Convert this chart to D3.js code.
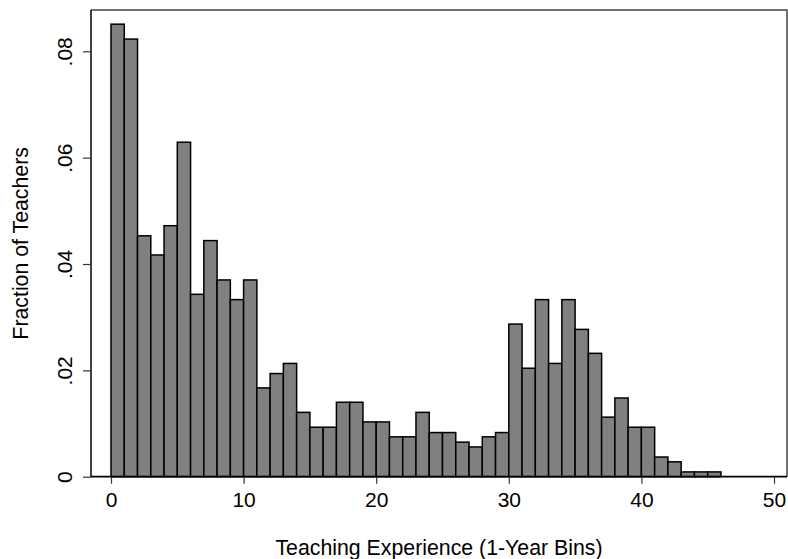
<!DOCTYPE html>
<html>
<head>
<meta charset="utf-8">
<script src="https://cdn.jsdelivr.net/npm/d3@7"></script>
<style>
  html, body { margin: 0; padding: 0; background: #fff; }
  svg { display: block; }
  text { font-family: "Liberation Sans", Arial, Helvetica, sans-serif; fill: #000; }
</style>
</head>
<body>
<svg id="chart" width="788" height="559"></svg>
<script>
// Left edges of the 1-year experience bins
const binStarts = d3.range(0, 46);
// Fraction of teachers in each bin
const fractions = [
  0.0851, 0.0823, 0.0453, 0.0417, 0.0472, 0.0629, 0.0343, 0.0444, 0.0370, 0.0333,
  0.0370, 0.0167, 0.0194, 0.0213, 0.0121, 0.0093, 0.0093, 0.0140, 0.0140, 0.0103,
  0.0103, 0.0075, 0.0075, 0.0121, 0.0083, 0.0083, 0.0065, 0.0056, 0.0075, 0.0083,
  0.0287, 0.0204, 0.0333, 0.0213, 0.0333, 0.0277, 0.0232, 0.0112, 0.0148, 0.0093,
  0.0093, 0.0037, 0.0028, 0.0009, 0.0009, 0.0009
];
const binWidth = 1;
const xTicks = [0, 10, 20, 30, 40, 50];
const yTicks = [0, 0.02, 0.04, 0.06, 0.08];
const yTickLabels = ["0", ".02", ".04", ".06", ".08"];
const xTitle = "Teaching Experience (1-Year Bins)";
const yTitle = "Fraction of Teachers";

const svg = d3.select("#chart");

// Plot region box
const plotLeft = 91, plotRight = 787, plotTop = 10, plotBottom = 476.7;

const x = d3.scaleLinear().domain([0, 50]).range([111, 774]);
const y = d3.scaleLinear().domain([0, 0.08]).range([plotBottom, 51.3]);

// Frame on top and right
svg.append("path")
  .attr("d", `M${plotLeft},${plotTop}H${plotRight}V${plotBottom}`)
  .attr("fill", "none")
  .attr("stroke", "#444")
  .attr("stroke-width", 1.5);

// Bars
const bins = binStarts.map((b, i) => ({ x0: b, x1: b + binWidth, v: fractions[i] }));
svg.append("g")
  .selectAll("rect")
  .data(bins)
  .join("rect")
  .attr("x", d => x(d.x0))
  .attr("width", d => x(d.x1) - x(d.x0))
  .attr("y", d => y(d.v))
  .attr("height", d => y(0) - y(d.v))
  .attr("fill", "#808080")
  .attr("stroke", "#000")
  .attr("stroke-width", 1.5);

// X axis
const xAxis = d3.axisBottom(x).tickValues(xTicks).tickSize(7).tickPadding(8).tickFormat(d3.format("d"));
const gx = svg.append("g").attr("transform", `translate(0,${plotBottom})`).call(xAxis);
gx.select(".domain").attr("d", `M${plotLeft},0H${plotRight}`).attr("stroke", "#000").attr("stroke-width", 1.8);
gx.selectAll(".tick line").attr("stroke", "#333").attr("stroke-width", 1.2);
gx.selectAll(".tick text").attr("font-size", 21).attr("font-family", "Liberation Sans, Arial, sans-serif").attr("fill", "#000");

// Y axis
const yAxis = d3.axisLeft(y).tickValues(yTicks).tickSize(8).tickPadding(0)
  .tickFormat((d, i) => yTickLabels[i]);
const gy = svg.append("g").attr("transform", `translate(${plotLeft},0)`).call(yAxis);
gy.select(".domain").attr("d", `M0,${plotTop}V${plotBottom}`).attr("stroke", "#000").attr("stroke-width", 1.5);
gy.selectAll(".tick line").attr("stroke", "#333").attr("stroke-width", 1.2);
gy.selectAll(".tick text")
  .attr("font-size", 21)
  .attr("font-family", "Liberation Sans, Arial, sans-serif")
  .attr("fill", "#000")
  .attr("x", null).attr("dy", null)
  .attr("text-anchor", "middle")
  .attr("transform", "translate(-19,0) rotate(-90)");

// Axis titles
svg.append("text")
  .attr("x", (plotLeft + plotRight) / 2)
  .attr("y", 555)
  .attr("text-anchor", "middle")
  .attr("font-size", 21.3)
  .text(xTitle);

svg.append("text")
  .attr("transform", `translate(28,${(plotTop + plotBottom) / 2}) rotate(-90)`)
  .attr("text-anchor", "middle")
  .attr("font-size", 21.3)
  .text(yTitle);
</script>
</body>
</html>
